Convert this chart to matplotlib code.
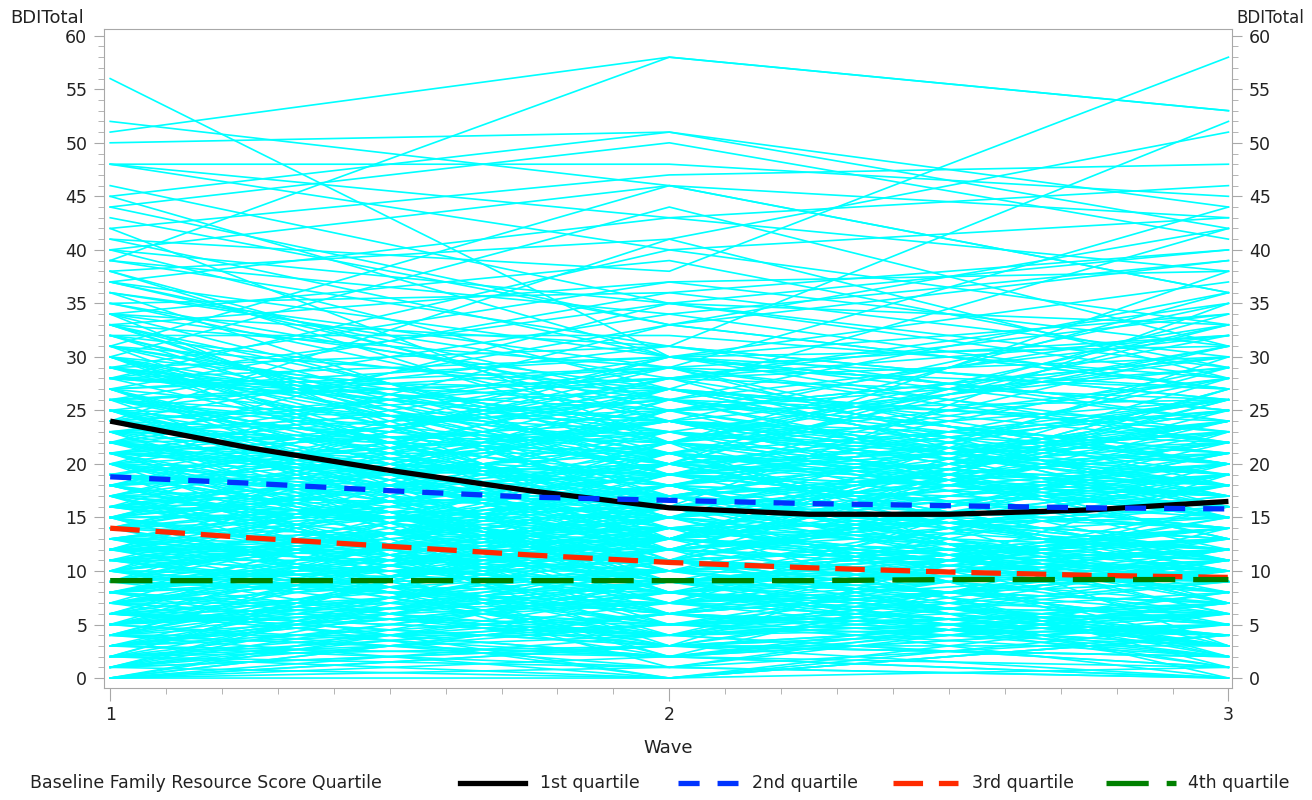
import matplotlib
matplotlib.use("Agg")
import matplotlib.pyplot as plt
from matplotlib.lines import Line2D

plt.rcParams['font.family'] = ['DejaVu Sans']

waves = [1, 2, 3]

# individual BDI trajectories (wave 1, wave 2, wave 3)
wave1 = [56, 52, 51, 50, 39, 48, 48, 48, 46, 45,
         44, 42, 41, 40, 39, 38, 37, 36, 35, 34,
         33, 31, 30, 28, 27, 26, 24, 22, 20, 18,
         15, 12, 44, 42, 40, 40, 38, 37, 36, 35,
         34, 33, 33, 32, 31, 30, 30, 29, 29, 28,
         28, 27, 27, 26, 26, 25, 25, 24, 24, 23,
         23, 22, 22, 21, 21, 20, 20, 19, 19, 18,
         18, 17, 17, 16, 16, 15, 15, 14, 14, 13,
         13, 12, 12, 11, 11, 10, 10, 9, 9, 8,
         8, 7, 7, 6, 6, 5, 5, 4, 4, 3,
         3, 2, 2, 1, 1, 0, 0, 26, 24, 22,
         32, 30, 29, 27, 25, 24, 23, 22, 21, 20,
         19, 18, 17, 16, 15, 14, 13, 12, 11, 10,
         9, 8, 7, 6, 5, 4, 3, 2, 1, 0,
         35, 31, 28, 26, 25, 23, 21, 19, 17, 16,
         15, 14, 13, 12, 11, 10, 9, 8, 7, 6,
         5, 4, 3, 2, 1, 0, 27, 25, 23, 21,
         20, 19, 18, 17, 16, 15, 14, 13, 12, 11,
         10, 9, 8, 7, 6, 5, 4, 3, 2, 1,
         24, 22, 20, 18, 16, 14, 12, 10, 8, 6,
         29, 26, 23, 21, 19, 17, 15, 13, 11, 9,
         7, 5, 3, 1, 0, 2, 4, 6, 8, 10,
         31, 27, 24, 21, 18, 15, 12, 9, 6, 3,
         36, 33, 30, 28, 25, 22, 19, 16, 13, 10,
         43, 41, 38, 34, 32, 29, 26, 37, 45, 39,
         0, 1, 2, 3, 4, 5, 6, 7, 8, 9,
         10, 11, 12, 13, 14, 15, 16, 17, 18, 19,
         20, 21, 22, 23, 24, 25, 26, 27, 28, 29,
         30, 31, 32, 33, 34, 0, 2, 4, 6, 8,
         1, 3, 5, 7, 9, 11, 13, 15, 17, 19,
         21, 23, 25, 27, 29, 12, 14, 16, 18, 20,
         22, 24, 26, 28, 30, 5, 7, 9, 11, 13,
         2, 4, 6, 8, 10, 12, 14, 16, 18, 20,
         25, 23, 21, 19, 17, 15, 13, 11, 9, 7,
         5, 3, 1, 0, 3, 6, 9, 12, 15, 18,
         31, 28, 25, 22, 19, 16, 13, 10, 7, 4,
         27, 24, 21, 18, 15, 12, 9, 6, 3, 0,
         33, 29, 26, 23, 20, 17, 14, 11, 8, 5,
         37, 34, 32, 30, 28, 26, 24, 22, 20, 18,
         16, 14, 12, 10, 8, 6, 4, 2, 1, 0]
wave2 = [30, 46, 58, 51, 58, 48, 43, 40, 35, 51,
         50, 47, 38, 46, 31, 41, 43, 29, 36, 27,
         37, 46, 44, 40, 36, 34, 41, 35, 33, 30,
         28, 25, 33, 22, 27, 35, 24, 30, 19, 26,
         21, 29, 17, 32, 23, 25, 14, 31, 20, 26,
         16, 30, 22, 18, 28, 24, 12, 27, 19, 21,
         25, 14, 30, 17, 26, 23, 11, 28, 16, 20,
         12, 24, 19, 22, 9, 27, 15, 18, 26, 10,
         20, 15, 8, 23, 13, 18, 6, 21, 11, 16,
         5, 14, 10, 19, 3, 12, 8, 17, 2, 9,
         15, 4, 11, 7, 13, 2, 6, 20, 33, 15,
         26, 19, 24, 13, 31, 17, 22, 9, 29, 13,
         24, 7, 29, 14, 21, 4, 17, 27, 6, 22,
         13, 19, 4, 9, 16, 7, 10, 1, 5, 9,
         24, 12, 35, 23, 10, 29, 18, 25, 13, 11,
         20, 13, 8, 12, 18, 26, 3, 11, 22, 15,
         1, 11, 6, 8, 3, 4, 11, 20, 26, 24,
         8, 15, 23, 5, 17, 8, 22, 12, 3, 16,
         10, 25, 14, 7, 2, 20, 4, 12, 16, 9,
         14, 19, 16, 11, 24, 19, 14, 9, 17, 5,
         18, 8, 13, 21, 4, 16, 24, 5, 11, 20,
         12, 7, 2, 14, 0, 5, 9, 3, 13, 2,
         22, 15, 28, 10, 20, 6, 11, 15, 10, 8,
         28, 20, 15, 27, 17, 12, 10, 30, 8, 6,
         33, 30, 22, 39, 19, 37, 21, 25, 30, 34,
         8, 3, 17, 1, 13, 9, 21, 4, 15, 7,
         16, 5, 19, 8, 11, 2, 14, 7, 21, 11,
         10, 12, 26, 6, 22, 14, 18, 9, 25, 15,
         11, 27, 16, 22, 13, 6, 0, 14, 7, 3,
         6, 9, 2, 16, 12, 4, 14, 9, 2, 13,
         7, 17, 20, 13, 23, 10, 16, 20, 6, 27,
         18, 9, 16, 30, 21, 10, 0, 8, 14, 19,
         3, 18, 13, 0, 4, 21, 6, 15, 28, 3,
         13, 21, 5, 17, 27, 1, 20, 9, 18, 13,
         10, 8, 0, 3, 5, 2, 7, 5, 16, 9,
         19, 24, 8, 16, 11, 22, 3, 15, 12, 0,
         29, 13, 19, 24, 7, 18, 11, 4, 9, 1,
         16, 21, 29, 8, 15, 12, 25, 18, 4, 14,
         26, 31, 20, 17, 24, 28, 9, 23, 19, 6,
         9, 23, 13, 17, 10, 4, 2, 6, 11, 3]
wave3 = [25, 36, 53, 44, 53, 45, 38, 33, 28, 42,
         41, 48, 58, 43, 52, 51, 46, 44, 40, 42,
         38, 36, 31, 43, 30, 39, 28, 33, 42, 37,
         35, 30, 27, 36, 20, 29, 18, 31, 24, 16,
         25, 22, 12, 28, 19, 33, 15, 26, 23, 21,
         14, 27, 17, 24, 32, 20, 10, 22, 29, 18,
         26, 12, 24, 21, 19, 30, 8, 34, 13, 25,
         16, 21, 14, 28, 7, 23, 19, 11, 24, 12,
         17, 22, 5, 19, 9, 26, 4, 15, 13, 20,
         3, 11, 18, 14, 6, 10, 2, 21, 5, 7,
         12, 1, 9, 4, 16, 0, 3, 38, 27, 29,
         36, 17, 13, 19, 24, 11, 33, 14, 27, 8,
         18, 10, 32, 9, 15, 6, 25, 20, 2, 31,
         8, 16, 1, 12, 23, 9, 14, 0, 6, 13,
         22, 9, 40, 18, 13, 16, 7, 30, 28, 5,
         11, 27, 4, 24, 7, 15, 19, 2, 17, 10,
         8, 5, 10, 3, 2, 7, 14, 33, 21, 16,
         12, 9, 20, 6, 25, 14, 3, 18, 10, 22,
         5, 29, 8, 13, 1, 17, 11, 6, 19, 4,
         20, 23, 10, 27, 13, 21, 8, 11, 14, 2,
         15, 12, 26, 9, 6, 35, 16, 4, 21, 18,
         15, 4, 7, 9, 1, 11, 3, 6, 10, 7,
         19, 24, 15, 22, 11, 3, 13, 24, 9, 18,
         26, 34, 20, 17, 9, 25, 14, 22, 6, 16,
         39, 25, 32, 29, 14, 31, 28, 18, 34, 27,
         11, 2, 12, 7, 18, 1, 9, 16, 3, 23,
         13, 9, 23, 3, 20, 5, 11, 15, 17, 7,
         6, 17, 20, 10, 26, 8, 22, 19, 13, 24,
         9, 20, 24, 15, 30, 4, 5, 8, 20, 0,
         0, 14, 6, 2, 17, 12, 1, 10, 8, 27,
         11, 6, 16, 23, 12, 3, 9, 26, 15, 23,
         28, 12, 7, 25, 16, 13, 4, 1, 19, 10,
         3, 6, 11, 4, 9, 18, 12, 5, 30, 11,
         21, 7, 13, 24, 17, 4, 10, 14, 26, 2,
         12, 3, 4, 2, 8, 14, 6, 7, 20, 13,
         17, 29, 10, 13, 19, 11, 5, 18, 0, 6,
         23, 10, 31, 19, 2, 16, 21, 7, 4, 0,
         12, 31, 18, 5, 22, 26, 17, 8, 12, 15,
         32, 26, 22, 14, 35, 20, 7, 18, 26, 4,
         3, 15, 9, 20, 13, 5, 0, 10, 3, 5]

# smoothed quartile means
fit_wave = [1.0, 1.25, 1.5, 1.75, 2.0, 2.25, 2.5, 2.75, 3.0]
q1_mean = [24.0, 21.5, 19.4, 17.5, 15.9, 15.3, 15.3, 15.7, 16.5]
q2_mean = [18.8, 18.2, 17.5, 16.9, 16.6, 16.3, 16.1, 15.9, 15.8]
q3_mean = [14.0, 13.1, 12.3, 11.5, 10.8, 10.3, 9.9, 9.6, 9.4]
q4_mean = [9.1, 9.1, 9.1, 9.1, 9.1, 9.1, 9.2, 9.2, 9.2]
quartile_labels = ['1st quartile', '2nd quartile', '3rd quartile', '4th quartile']

fig = plt.figure(figsize=(13.12, 8), dpi=100)
ax = fig.add_axes([0.0793, 0.14, 0.860, 0.824])

for a, b, c in zip(wave1, wave2, wave3):
    ax.plot(waves, [a, b, c], color='#00ffff', lw=1.2, zorder=1)

styles = [
    dict(color='black', ls='-'),
    dict(color='#0033ff', ls=(0, (4, 3.4))),
    dict(color='#ff2a00', ls=(0, (5.6, 3))),
    dict(color='#008000', ls=(0, (8, 3.4))),
]
for means, st in zip([q1_mean, q2_mean, q3_mean, q4_mean], styles):
    ax.plot(fit_wave, means, lw=3.8, zorder=3, solid_capstyle='butt',
            dash_capstyle='butt', **st)

ax.set_xlim(0.989, 3.007)
ax.set_ylim(-0.93, 60.65)
ax.set_xticks([1, 2, 3])
ax.set_xticks([1 + i / 10 for i in range(21)], minor=True)
ax.set_yticks(range(0, 61, 5))
ax.set_yticks(range(0, 61), minor=True)
for s in ax.spines.values():
    s.set_color('#a8a8a8')
ax.tick_params(which='both', colors='#a8a8a8', labelcolor='#222222',
               labelsize=12.5, right=True, labelright=True)
ax.tick_params(which='major', length=7, pad=5)
ax.tick_params(which='minor', length=4)
ax.tick_params(axis='x', which='major', length=9, pad=4)

fig.text(0.008, 0.978, 'BDITotal', fontsize=13, color='#222222', va='center')
fig.text(1304 / 1312, 0.978, 'BDITotal', fontsize=12, color='#222222',
         ha='right', va='center')
fig.text(668 / 1312, 1 - 748 / 800, 'Wave', fontsize=13, color='#222222',
         ha='center', va='center')

# legend row along the bottom
ly = 1 - 783 / 800
fig.text(30 / 1312, ly, 'Baseline Family Resource Score Quartile', fontsize=12.5,
         color='#222222', va='center')
handle_x = [(460, 525), (678, 738), (893, 958), (1106, 1176)]
text_x = [540, 752, 972, 1188]
for (x0, x1), tx, lab, st in zip(handle_x, text_x, quartile_labels, styles):
    fig.add_artist(Line2D([x0 / 1312, x1 / 1312], [ly, ly], lw=3.8,
                          transform=fig.transFigure, dash_capstyle='butt', **st))
    fig.text(tx / 1312, ly, lab, fontsize=12.5, color='#222222', va='center')

fig.savefig('out.png', dpi=100)
